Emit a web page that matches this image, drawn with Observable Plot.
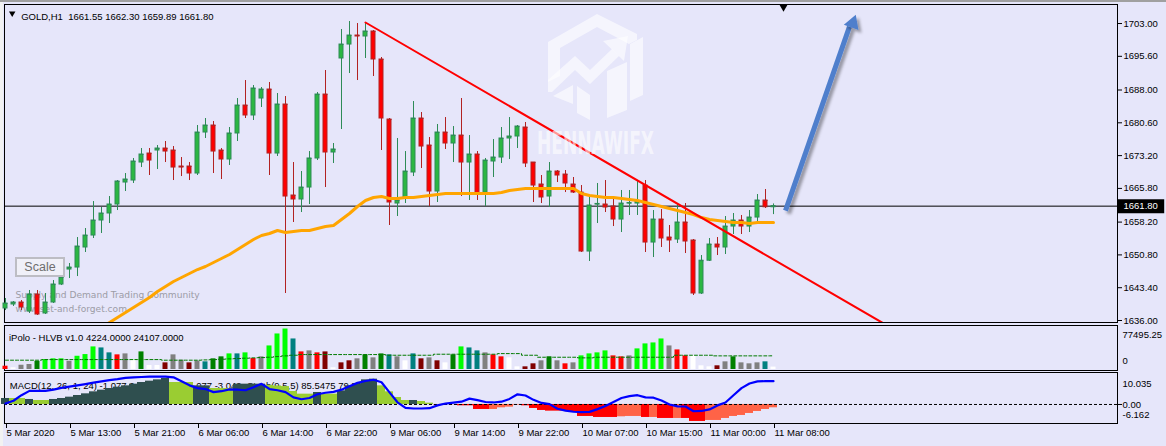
<!DOCTYPE html>
<html>
<head>
<meta charset="utf-8">
<script src="https://cdn.jsdelivr.net/npm/d3@7"></script>
<script src="https://cdn.jsdelivr.net/npm/@observablehq/plot@0.6"></script>
<style>
  html, body { margin: 0; padding: 0; }
  body { width: 1166px; height: 446px; background: #e6e6fa; position: relative; overflow: hidden; font-family: "Liberation Sans", Arial, sans-serif; }
  #stage { position: absolute; left: 0; top: 0; width: 1166px; height: 446px; }
  #stage svg { position: absolute; left: 0; top: 0; }
  svg text { white-space: pre; }
  #topband { position: absolute; left: 0; top: 0; width: 1166px; height: 2px; background: #a0a0a0; }
  #leftband { position: absolute; left: 0; top: 2px; width: 3px; height: 444px; background: #f2f2f2; }
  #scale { position: absolute; left: 15px; top: 257px; width: 46px; height: 16px; border: 2px solid #bdbdc4; background: #f0f0f8;
           color: #6e6e6e; font-family: "Liberation Sans", Arial, sans-serif; font-size: 12.5px; line-height: 16px; text-align: center; }
</style>
</head>
<body>
<div id="topband"></div>
<div id="leftband"></div>
<div id="stage"></div>
<div id="scale">Scale</div>
<script>
// ---------------- DATA ----------------
const symbolTitle = "GOLD,H1";
const titleValues = "1661.55 1662.30 1659.89 1661.80";
const volumeTitle = "iPolo - HLVB v1.0 4224.0000 24107.0000";
const macdTitle = "MACD(12, 26, 1, 24) -1.077 0.000 -1.077 -1.077 -3.049  Stoch(9,5,5) 85.5475 79.7284";
const siteLine1 = "Supply and Demand Trading Community";
const siteLine2 = "www.set-and-forget.com";
const watermarkText = "HENNAWIFX";

const open = [
1638.71,1639.61,1640.06,1638.03,1641.86,1637.58,1640.06,1644.12,1647.50,1647.95,
1652.47,1655.17,1658.56,1660.14,1662.17,1667.13,1667.58,1671.64,1673.67,1674.35,
1674.80,1674.35,1670.74,1670.74,1669.16,1678.41,1679.99,1674.35,1672.32,1678.19,
1684.50,1682.25,1686.08,1688.11,1673.67,1684.73,1664.20,1663.30,1666.00,1672.55,
1686.98,1673.90,1695.11,1698.26,1700.29,1700.07,1701.20,1694.88,1681.34,1662.39,
1663.75,1669.39,1681.57,1675.48,1665.10,1678.41,1675.93,1677.73,1671.64,1673.45,
1664.87,1671.87,1672.77,1677.06,1677.51,1679.54,1671.64,1666.68,1663.97,1669.61,
1668.93,1666.68,1664.87,1651.56,1662.17,1662.17,1661.72,1658.78,1662.39,1662.39,
1666.45,1653.59,1658.78,1654.72,1654.27,1658.11,1654.05,1642.09,1649.49,1653.14,
1652.47,1657.20,1658.56,1657.20,1659.23,1663.07,1661.55];
const high = [
1640.96,1640.28,1640.51,1642.77,1642.77,1642.09,1645.02,1646.83,1648.86,1654.72,
1656.75,1662.84,1661.49,1663.97,1667.58,1669.16,1672.55,1674.80,1674.80,1675.48,
1676.38,1675.25,1672.77,1671.64,1679.99,1681.57,1680.89,1674.80,1679.54,1686.08,
1690.14,1689.01,1688.56,1689.69,1687.21,1686.53,1671.64,1669.61,1674.12,1687.43,
1692.40,1675.93,1701.65,1703.45,1703.00,1703.23,1701.42,1695.33,1681.57,1677.06,
1674.12,1685.40,1682.92,1677.28,1680.22,1681.79,1679.76,1686.08,1677.73,1674.12,
1672.55,1676.83,1679.54,1681.79,1679.99,1680.67,1671.64,1668.71,1671.64,1669.84,
1669.84,1668.26,1666.45,1663.97,1666.91,1667.58,1663.75,1665.33,1665.33,1667.58,
1667.58,1660.81,1661.04,1657.43,1662.39,1662.39,1654.27,1650.66,1654.50,1654.72,
1659.46,1660.14,1659.69,1660.81,1664.42,1665.55,1662.30];
const low = [
1638.25,1639.16,1638.25,1637.58,1637.13,1637.35,1639.83,1643.89,1645.47,1645.92,
1651.34,1654.50,1655.63,1657.88,1660.81,1665.10,1666.91,1670.51,1668.71,1670.06,
1671.64,1667.58,1668.48,1667.58,1668.71,1677.06,1669.16,1667.81,1670.97,1676.38,
1681.57,1681.12,1684.05,1668.71,1673.00,1642.09,1658.11,1660.36,1662.17,1672.09,
1666.00,1671.42,1679.09,1691.72,1690.14,1695.11,1691.04,1674.35,1657.43,1659.46,
1662.39,1668.48,1670.29,1661.72,1662.62,1674.58,1671.64,1663.97,1663.07,1663.07,
1661.72,1668.26,1671.42,1672.32,1674.80,1670.51,1662.62,1662.39,1661.49,1667.13,
1664.87,1664.65,1651.34,1649.31,1657.88,1660.36,1657.20,1655.85,1659.69,1659.69,
1651.34,1650.21,1652.47,1651.34,1653.37,1651.11,1641.64,1641.87,1649.31,1650.66,
1650.89,1655.40,1655.40,1655.85,1658.11,1661.27,1659.89];
const close = [
1639.83,1640.06,1638.93,1641.86,1637.35,1640.06,1644.12,1645.70,1647.95,1652.69,
1655.17,1658.56,1660.14,1662.17,1667.36,1667.81,1671.87,1673.45,1672.09,1674.80,
1674.12,1670.51,1670.51,1669.16,1678.41,1679.99,1674.12,1672.32,1678.19,1684.50,
1682.25,1688.34,1688.11,1673.67,1684.73,1663.97,1663.30,1666.00,1672.55,1686.98,
1673.90,1674.58,1698.26,1700.29,1700.07,1701.20,1694.88,1681.57,1662.62,1663.07,
1669.61,1681.57,1675.25,1665.10,1678.41,1675.93,1677.73,1671.64,1673.45,1664.65,
1672.09,1672.77,1677.06,1677.51,1679.76,1671.42,1666.45,1663.75,1669.61,1668.71,
1666.91,1664.87,1651.56,1661.94,1662.30,1661.49,1658.78,1662.39,1662.50,1662.84,
1653.59,1658.78,1654.50,1654.05,1658.11,1653.82,1642.09,1649.49,1653.14,1652.47,
1657.20,1658.56,1657.20,1659.23,1663.07,1661.55,1661.80];

// orange moving average, starting at bar 12
const maStart = 12;
const maValues = [
1634.42,1635.55,1636.67,1637.80,1638.93,1640.06,1641.19,1642.54,1643.67,1644.80,
1645.70,1646.60,1647.50,1648.18,1649.08,1649.99,1650.89,1652.02,1653.14,1654.27,
1655.17,1655.63,1656.30,1655.85,1656.08,1656.30,1656.30,1656.75,1657.20,1657.43,
1658.78,1660.14,1661.72,1663.07,1663.75,1663.97,1663.52,1663.52,1663.75,1663.75,
1663.97,1664.20,1664.42,1664.65,1664.65,1664.65,1664.65,1664.65,1664.65,1664.65,
1664.87,1665.33,1665.55,1665.78,1665.78,1665.78,1665.78,1665.78,1665.78,1665.78,
1664.65,1664.20,1663.97,1663.75,1663.75,1663.52,1663.30,1663.07,1662.62,1662.17,
1661.72,1661.27,1660.81,1660.36,1659.91,1659.23,1658.78,1658.56,1658.33,1658.11,
1658.11,1657.88,1658.11,1658.11,1658.11];

// red trend line (bar index, price)
const trendIndex = [45, 109.6];
const trendPrice = [1703.23, 1635.50];

// blue arrow (bar index, price)
const arrowIndex = [97.5, 105.5];
const arrowPrice = [1660.80, 1702.30];
const arrowHeadIndex = 105.9;
const arrowHeadPrice = 1703.07;
const chartShiftIndex = 97.25;

const priceTicks = [1703.00,1695.60,1688.00,1680.60,1673.20,1665.80,1658.20,1650.80,1643.40,1636.00];

// volume (HLVB)
const volume = [
5800,3000,7500,8800,14500,17500,18800,18800,14500,23300,
26300,39800,38000,29300,25800,27500,17500,31000,7000,7000,
11700,25800,16300,11700,14900,13500,18800,22300,27500,27500,
29300,19300,22300,41500,62600,71300,53800,31000,32800,29300,
31000,3000,11700,15300,18800,25800,20500,27500,25800,22300,
15300,27500,18800,20500,15300,11700,25800,39800,38000,32800,
29300,25800,22300,20500,4700,4700,10000,15300,22300,15300,
10000,11700,24000,27500,29300,32800,24000,22300,24000,36300,
45100,46800,53800,41500,34500,24000,24000,6500,4700,6500,
13500,22300,11700,10000,11700,13500,4224];
const volumeState = [
"R","W","S","S","G","L","L","L","S","L",
"L","L","T","T","R","S","W","G","W","W",
"M","S","S","M","S","T","G","G","L","T",
"L","R","S","L","L","L","T","R","S","R",
"M","W","M","M","S","G","S","G","T","S",
"W","T","M","S","M","W","G","L","T","T",
"S","R","R","W","W","M","M","S","G","S",
"R","S","L","L","L","L","R","R","S","L",
"L","L","L","S","R","R","W","W","W","M",
"S","G","S","S","S","T","W"];
const volumeAvg = [
16400,16400,16400,16400,16400,17500,17500,17500,17500,17500,
17500,17500,17500,17500,17500,17500,17500,17500,17500,17500,
16400,16400,16400,16400,16400,16900,17500,18100,18700,19300,
19900,20500,21000,21600,22800,24000,25100,26300,26300,26300,
26300,26300,26300,26300,26300,26300,26300,26300,25100,25100,
25100,25100,25100,25100,26900,26900,26900,26900,26900,26900,
26900,26900,28000,28000,28000,25100,25100,21600,21600,21600,
21600,21600,20500,20500,21600,21600,21600,21600,21600,21600,
21600,21600,21600,21600,25100,25100,25100,25100,25100,24000,
24000,24000,24000,24000,24000,24000,24107];
const volumeMax = 77495.25;

// MACD histogram + line
const macdHist = [
1.94,1.94,1.94,1.62,1.29,1.29,1.62,1.94,2.37,2.91,
3.45,4.10,4.64,5.18,5.61,6.04,6.58,7.12,7.55,7.98,
8.41,7.12,7.12,7.12,6.04,6.04,5.18,5.18,5.18,6.58,
6.58,6.58,6.58,6.20,6.00,5.80,4.21,3.34,3.34,3.88,
3.34,3.34,4.42,6.04,6.58,7.98,8.20,6.04,4.10,2.26,
1.29,1.29,0.97,0.43,-0.15,0.05,-0.05,-0.43,-0.43,-1.62,
-1.62,-1.62,-1.08,-0.86,-0.20,-0.43,-1.29,-1.94,-2.16,-2.16,
-2.16,-2.59,-3.88,-3.88,-4.21,-4.21,-4.21,-3.99,-3.88,-3.88,
-4.21,-4.21,-4.53,-4.53,-4.53,-4.53,-5.50,-5.50,-5.18,-5.18,
-4.53,-3.88,-3.56,-2.91,-2.26,-1.62,-1.077];
const macdState = [
"D","Y","Y","D","Y","Y","D","D","D","D",
"D","D","D","D","D","D","D","D","D","D",
"D","Y","Y","Y","D","D","Y","Y","Y","D",
"D","D","D","Y","Y","Y","Y","Y","Y","D",
"Y","Y","D","D","D","D","D","Y","Y","Y",
"Y","D","Y","Y","T","Y","R","R","R","R",
"R","T","T","T","T","R","R","R","R","R",
"R","R","R","R","R","R","R","T","T","T",
"R","T","R","R","T","R","R","R","T","T",
"T","T","T","T","T","T","T"];
const macdLine = [
0.3,1.2,3.0,4.4,4.4,4.4,4.8,5.4,5.8,6.2,
6.6,7.1,7.5,7.9,8.2,8.6,8.8,8.9,9.0,9.0,
9.05,8.8,7.5,6.2,5.3,5.0,4.0,4.3,4.9,4.8,
4.6,5.6,6.7,5.0,4.6,4.0,2.3,1.7,2.1,3.3,
3.8,4.1,4.8,5.9,7.0,7.6,8.0,7.2,3.9,0.7,
-1.1,-1.3,-1.3,-1.2,-0.3,0.3,0.6,0.9,1.9,1.4,
0.8,0.65,0.9,1.8,3.3,2.9,1.5,0.5,0.1,-1.4,
-2.0,-2.35,-2.5,-2.4,-1.5,-0.5,0.8,2.1,2.7,3.0,
2.3,2.2,1.3,0.0,-0.6,-0.65,-2.2,-2.1,-1.6,-0.3,
0.65,3.0,5.3,6.8,7.5,7.55,7.55];
const macdMax = 10.035;
const macdMin = -6.162;

const timeTickIndex = [0,8,16,24,32,40,48,56,64,72,80,88,96];
const timeTickLabels = ["5 Mar 2020","5 Mar 13:00","5 Mar 21:00","6 Mar 06:00","6 Mar 14:00","6 Mar 22:00",
  "9 Mar 06:00","9 Mar 14:00","9 Mar 22:00","10 Mar 07:00","10 Mar 15:00","11 Mar 00:00","11 Mar 08:00"];

// ---------------- BUILD ----------------
const W = 1166, H = 446;
const xDomain = [-0.125, 139];
const font = "Liberation Sans, Arial, sans-serif";
const baseStyle = {background: "transparent", overflow: "visible", fontFamily: font, fontSize: "9.5px", color: "black"};
const n = open.length;
const candles = d3.range(n).map(i => ({i, o: open[i], h: high[i], l: low[i], c: close[i]}));
const bulls = candles.filter(d => d.c >= d.o);
const bears = candles.filter(d => d.c < d.o);
const bullFill = "#2bb742", bullLine = "#2e8b57", bearFill = "#ff0000", bearLine = "#b22222";
const maData = maValues.map((v, k) => ({i: maStart + k, v}));
const trend = trendIndex.map((i, k) => ({i, p: trendPrice[k]}));
const arrow = {i1: arrowIndex[0], p1: arrowPrice[0], i2: arrowIndex[1], p2: arrowPrice[1]};
const lastClose = close[n - 1];
const arrowColor = "#4f7fcc";
const halfBody = 0.25;

const price = Plot.plot({
  width: W, height: H, marginLeft: 4, marginRight: 49, marginTop: 4, marginBottom: H - 322,
  style: baseStyle,
  x: {domain: xDomain, axis: null},
  y: {domain: [1635.55, 1707.29]},
  marks: [
    Plot.frame({stroke: "black"}),
    Plot.text([siteLine1], {frameAnchor: "top-left", dx: 11, dy: 287, textAnchor: "start", fill: "#9c9ca6", fontFamily: "DejaVu Sans", fontSize: 9.1}),
    Plot.text([siteLine2], {frameAnchor: "top-left", dx: 11, dy: 301, textAnchor: "start", fill: "#9c9ca6", fontFamily: "DejaVu Sans", fontSize: 9.1}),
    Plot.ruleY([lastClose], {stroke: "black", strokeWidth: 1}),
    Plot.ruleX(bulls, {x: "i", y1: "l", y2: "h", stroke: bullLine}),
    Plot.ruleX(bears, {x: "i", y1: "l", y2: "h", stroke: bearLine}),
    Plot.rect(bulls, {x1: d => d.i - halfBody, x2: d => d.i + halfBody, y1: "o", y2: "c", fill: bullFill, stroke: bullLine}),
    Plot.rect(bears, {x1: d => d.i - halfBody, x2: d => d.i + halfBody, y1: "o", y2: "c", fill: bearFill, stroke: bearLine}),
    Plot.link(bulls, {x1: d => d.i - halfBody, x2: d => d.i + halfBody, y1: "c", y2: "c", stroke: bullLine}),
    Plot.link(bears, {x1: d => d.i - halfBody, x2: d => d.i + halfBody, y1: "o", y2: "o", stroke: bearLine}),
    Plot.line(maData, {x: "i", y: "v", stroke: "#ffa500", strokeWidth: 3, clip: true}),
    Plot.line(trend, {x: "i", y: "p", stroke: "#ff0000", strokeWidth: 2, clip: true}),
    Plot.link([arrow], {x1: "i1", y1: "p1", x2: "i2", y2: "p2", stroke: arrowColor, strokeWidth: 5}),
    Plot.dot([{i: arrowHeadIndex, p: arrowHeadPrice}], {x: "i", y: "p", symbol: "triangle", r: 5.8, rotate: 20, fill: arrowColor, stroke: "none"}),
    Plot.dot([{i: chartShiftIndex}], {x: "i", frameAnchor: "top", dy: 2.2, symbol: "triangle", rotate: 180, r: 3.2, fill: "black", stroke: "none"}),
    Plot.axisY({anchor: "right", ticks: priceTicks, tickFormat: ".2f", tickSize: 4, tickPadding: 2, label: null}),
    Plot.ruleY([lastClose], {x1: 139.1, x2: 144.9, stroke: "black", strokeWidth: 14}),
    Plot.text([lastClose], {y: d => d, text: d => d.toFixed(2), frameAnchor: "right", dx: 6, textAnchor: "start", fill: "white"}),
    Plot.dot([0], {frameAnchor: "top-left", dx: 7.7, dy: 8.8, symbol: "triangle", rotate: 180, r: 2.4, fill: "black", stroke: "none"}),
    Plot.text([symbolTitle], {frameAnchor: "top-left", dx: 16.7, dy: 9, textAnchor: "start"}),
    Plot.text([titleValues], {frameAnchor: "top-left", dx: 63.7, dy: 9, textAnchor: "start"})
  ]
});

const volData = d3.range(n).map(i => ({i, v: volume[i], s: volumeState[i], a: volumeAvg[i]}));
const vol = Plot.plot({
  width: W, height: H, marginLeft: 4, marginRight: 49, marginTop: 325, marginBottom: H - 370,
  style: baseStyle,
  x: {domain: xDomain, axis: null},
  y: {domain: [0, volumeMax], range: [369, 325], axis: null},
  color: {type: "ordinal", domain: ["L","G","T","S","W","R","M"], range: ["#00ff00","#008000","#008080","#808080","#ffffff","#ff0000","#800000"]},
  marks: [
    Plot.frame({stroke: "black"}),
    Plot.text([volumeTitle], {frameAnchor: "top-left", dx: 4.5, dy: 8.5, textAnchor: "start"}),
    Plot.rect(volData, {x1: d => d.i - 0.3125, x2: d => d.i + 0.3125, y1: 0, y2: "v", fill: "s"}),
    Plot.line(volData, {x: "i", y: "a", stroke: "#007a00", strokeWidth: 1, strokeDasharray: "3,2", curve: "step"}),
    Plot.text([volumeMax], {text: d => d.toFixed(2), frameAnchor: "top-right", dx: 5, dy: 6, textAnchor: "start"}),
    Plot.text([0], {text: d => String(d), frameAnchor: "bottom-right", dx: 5, dy: -7, textAnchor: "start"})
  ]
});

const macdData = d3.range(n).map(i => ({i, v: macdHist[i], s: macdState[i], m: macdLine[i]}));
const macd = Plot.plot({
  width: W, height: H, marginLeft: 4, marginRight: 49, marginTop: 372, marginBottom: H - 423,
  style: baseStyle,
  x: {domain: xDomain},
  y: {domain: [macdMin, macdMax], range: [423, 373]},
  color: {type: "ordinal", domain: ["D","Y","R","T"], range: ["#2f4f4f","#9acd32","#ff0000","#ff6347"]},
  marks: [
    Plot.frame({stroke: "black"}),
    Plot.text([macdTitle], {frameAnchor: "top-left", dx: 5.3, dy: 10, textAnchor: "start"}),
    Plot.rect(macdData, {x1: d => d.i - 0.5, x2: d => d.i + 0.5, y1: 0, y2: "v", fill: "s"}),
    Plot.ruleY([0], {stroke: "black", strokeDasharray: "3,2"}),
    Plot.line(macdData, {x: "i", y: "m", stroke: "#0000ff", strokeWidth: 2.2}),
    Plot.axisY({anchor: "right", ticks: [0], tickFormat: ".2f", tickSize: 4, tickPadding: 1, label: null}),
    Plot.text([macdMax], {text: d => d.toFixed(3), frameAnchor: "top-right", dx: 5, dy: 8, textAnchor: "start"}),
    Plot.text([macdMin], {text: d => d.toFixed(3), frameAnchor: "bottom-right", dx: 5, dy: -5.5, textAnchor: "start"}),
    Plot.axisX({anchor: "bottom", ticks: timeTickIndex, tickFormat: d => timeTickLabels[timeTickIndex.indexOf(d)],
      tickSize: 5, tickPadding: 1, textAnchor: "start", dx: 1, label: null})
  ]
});

const stage = document.getElementById("stage");
stage.appendChild(price);
stage.appendChild(vol);
stage.appendChild(macd);

// arrow shadow
price.insertAdjacentHTML("afterbegin",
  '<defs><filter id="arrowShadow" x="-50%" y="-50%" width="200%" height="200%">' +
  '<feDropShadow dx="3" dy="3" stdDeviation="1.6" flood-color="#000" flood-opacity="0.35"/></filter></defs>');
price.querySelectorAll('g[aria-label="link"]').forEach(g => {
  if (g.getAttribute("stroke") === arrowColor) g.setAttribute("filter", "url(#arrowShadow)");
});
price.querySelectorAll('g[aria-label="dot"]').forEach(g => {
  if (g.getAttribute("fill") === arrowColor) g.setAttribute("filter", "url(#arrowShadow)");
});

// HENNAWIFX watermark logo (decoration)
price.insertAdjacentHTML("beforeend",
  '<g fill="#ffffff" fill-opacity="0.6" stroke="none">' +
  '<path d="M548 82 L548 42 L597 14 L637 34 L637 40 L629 44 L597 27 L560 48 L560 76 Z"/>' +
  '<path d="M548 80 L575 56 L590 70 L612 49 L619 56 L590 84 L575 70 L552 92 L548 92 Z"/>' +
  '<path d="M603 41 L628 36 L624 61 Z"/>' +
  '<path d="M630 44 L643 37 L643 95 L630 101 Z"/>' +
  '<path d="M553 96 L573 85 L573 104 Z"/>' +
  '<path d="M577 86 L590 95 L590 120 L577 113 Z"/>' +
  '<path d="M607 71 L627 62 L627 110 L607 118 Z"/>' +
  '<text x="537" y="154" text-anchor="start" font-family="DejaVu Sans Condensed, DejaVu Sans" font-weight="bold" font-size="32" ' +
  'textLength="117" lengthAdjust="spacingAndGlyphs">' + watermarkText + '</text>' +
  '</g>');
</script>
</body>
</html>
